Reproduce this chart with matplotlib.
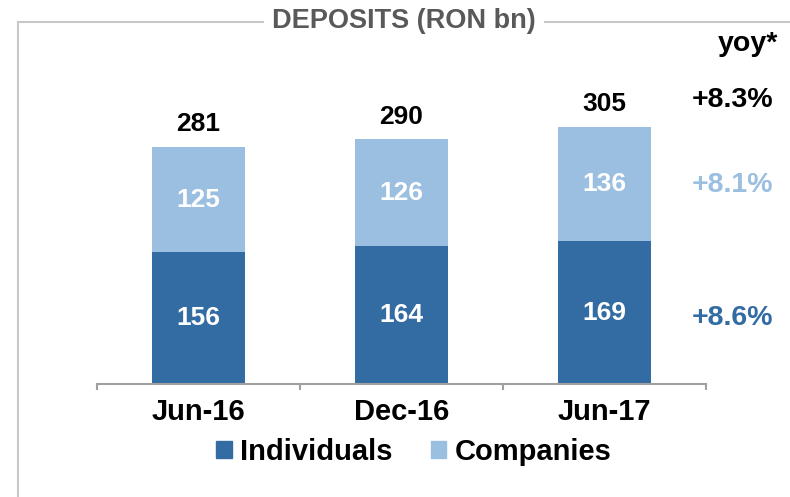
import matplotlib.pyplot as plt
from matplotlib.lines import Line2D
from matplotlib.patches import Patch

plt.rcParams['font.family'] = ['Liberation Sans', 'DejaVu Sans']

# Data
periods = ['Jun-16', 'Dec-16', 'Jun-17']
individuals = [156, 164, 169]
companies = [125, 126, 136]
totals = [281, 290, 305]
yoy_labels = ['+8.3%', '+8.1%', '+8.6%']

dark_blue = '#336CA3'
light_blue = '#9BBFE0'
frame_grey = '#C8C8C8'

W, H = 790, 497
fig = plt.figure(figsize=(W / 100, H / 100), dpi=100)

def fx(px):
    return px / W

def fy(py):
    return 1 - py / H

# plot area: x 97..706, baseline y=384
top_px = 30
ax = fig.add_axes([fx(97), fy(384), fx(706 - 97), (384 - top_px) / H])

x = list(range(len(periods)))
ax.bar(x, individuals, width=0.46, color=dark_blue, label='Individuals')
ax.bar(x, companies, width=0.46, bottom=individuals, color=light_blue, label='Companies')

for i in x:
    ax.text(i, individuals[i] / 2, str(individuals[i]), ha='center', va='center',
            color='white', fontsize=19, fontweight='bold')
    ax.text(i, individuals[i] + companies[i] / 2, str(companies[i]), ha='center', va='center',
            color='white', fontsize=19, fontweight='bold')
    ax.text(i, totals[i] + 27, str(totals[i]), ha='center', va='center',
            color='black', fontsize=19, fontweight='bold')

ax.set_xlim(-0.5, 2.5)
ax.set_ylim(0, (384 - top_px) / 0.8435)

for s in ['top', 'right', 'left']:
    ax.spines[s].set_visible(False)
ax.spines['bottom'].set_color('#A0A0A0')
ax.spines['bottom'].set_linewidth(1.5)
ax.set_yticks([])
ax.set_xticks([-0.5, 0.5, 1.5, 2.5])
ax.set_xticklabels([])
ax.tick_params(axis='x', which='major', direction='out', length=4.5, width=1.5, color='#A0A0A0')
ax.set_xticks(x, minor=True)
ax.set_xticklabels(periods, minor=True, fontsize=21, fontweight='bold')
ax.tick_params(axis='x', which='minor', length=0, pad=10)

handles = [Patch(color=dark_blue), Patch(color=light_blue)]
fig.legend(handles, ['Individuals', 'Companies'], loc='center', bbox_to_anchor=(fx(414), fy(452)),
           ncol=2, frameon=False, prop={'size': 21, 'weight': 'bold'},
           handlelength=0.52, handleheight=0.5, handletextpad=0.3, columnspacing=1.3)

# frame with title breaking the top line
fig.add_artist(Line2D([fx(18), fx(18)], [fy(22), 0], color=frame_grey, lw=1.5))
fig.add_artist(Line2D([fx(18), fx(263)], [fy(22), fy(22)], color=frame_grey, lw=1.5))
fig.add_artist(Line2D([fx(545), 1], [fy(22), fy(22)], color=frame_grey, lw=1.5))
fig.text(fx(404), fy(21), 'DEPOSITS (RON bn)', ha='center', va='center',
         color='#595959', fontsize=19.5, fontweight='bold')

# yoy column
fig.text(fx(778), fy(44), 'yoy*', ha='right', va='center', color='black',
         fontsize=20.5, fontweight='bold')
yoy_colors = ['black', light_blue, dark_blue]
yoy_y = [100, 185, 318]
for lab, c, yy in zip(yoy_labels, yoy_colors, yoy_y):
    fig.text(fx(773), fy(yy), lab, ha='right', va='center', color=c,
             fontsize=20.5, fontweight='bold')

fig.savefig('out.png', dpi=100)
